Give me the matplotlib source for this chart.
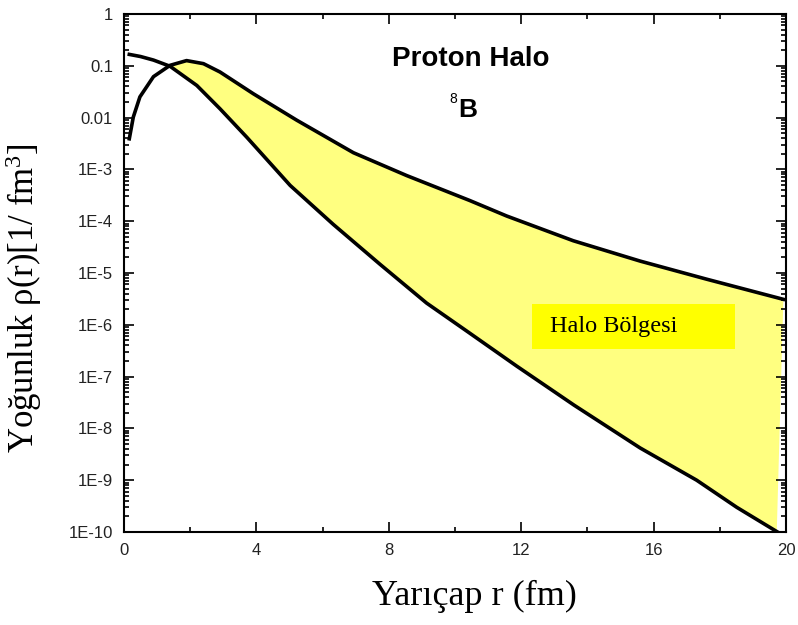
import matplotlib
matplotlib.use("Agg")
import matplotlib.pyplot as plt
from matplotlib.patches import Rectangle
from matplotlib.ticker import FixedLocator, FixedFormatter, LogLocator, NullFormatter

# lower curve (first curve, flat at small r)
r_a = [0.16, 0.5, 0.89, 1.39, 2.2, 2.9, 3.71, 5.02, 6.32, 7.73, 9.14, 10.35,
       11.86, 13.6, 15.59, 17.30, 18.51, 19.72]
rho_a = [0.166, 0.151, 0.129, 0.098, 0.0417, 0.0148, 4.17e-3, 4.9e-4, 8.7e-5,
         1.48e-5, 2.63e-6, 7.6e-7, 1.6e-7, 2.8e-8, 4.2e-9, 1.0e-9, 3.0e-10,
         1.02e-10]

# upper curve (halo, peaks near r=2)
r_b = [0.16, 0.28, 0.48, 0.89, 1.39, 1.89, 2.40, 2.90, 3.91, 5.22, 6.93, 8.54,
       10.45, 11.56, 13.57, 15.59, 17.60, 19.92]
rho_b = [3.9e-3, 0.0102, 0.0251, 0.0617, 0.102, 0.126, 0.110, 0.0759, 0.0288,
         8.9e-3, 2.1e-3, 7.6e-4, 2.5e-4, 1.26e-4, 4.2e-5, 1.7e-5, 7.6e-6,
         3.1e-6]

ytick_vals = [1, 0.1, 0.01, 1e-3, 1e-4, 1e-5, 1e-6, 1e-7, 1e-8, 1e-9, 1e-10]
ytick_labels = ["1", "0.1", "0.01", "1E-3", "1E-4", "1E-5", "1E-6", "1E-7",
                "1E-8", "1E-9", "1E-10"]
xtick_vals = [0, 4, 8, 12, 16, 20]

plt.rcParams["mathtext.fontset"] = "custom"
plt.rcParams["mathtext.rm"] = "Liberation Serif"
plt.rcParams["mathtext.it"] = "Liberation Serif"

fig = plt.figure(figsize=(7.98, 6.25), dpi=100)
ax = fig.add_axes([0.1554, 0.1488, 0.8296, 0.8288])

# yellow halo region between the two curves (from the crossing point on)
up = [(r, v) for r, v in zip(r_b, rho_b) if r >= 1.39]
lo = [(r, v) for r, v in zip(r_a, rho_a) if r >= 1.39]
poly_r = [p[0] for p in up] + [p[0] for p in reversed(lo)]
poly_v = [p[1] for p in up] + [p[1] for p in reversed(lo)]
ax.fill(poly_r, poly_v, color="#ffff80", lw=0, zorder=1)

ax.plot(r_a, rho_a, color="red", lw=1, zorder=2)
ax.plot(r_a, rho_a, color="black", lw=2.6, zorder=3)
ax.plot(r_b, rho_b, color="black", lw=2.6, zorder=3)

ax.set_yscale("log")
ax.set_xlim(0, 20)
ax.set_ylim(1e-10, 1)

ax.yaxis.set_major_locator(FixedLocator(ytick_vals))
ax.yaxis.set_major_formatter(FixedFormatter(ytick_labels))
ax.yaxis.set_minor_locator(LogLocator(base=10, subs=range(2, 10), numticks=20))
ax.yaxis.set_minor_formatter(NullFormatter())
ax.set_xticks(xtick_vals)
ax.set_xticks([2, 6, 10, 14, 18], minor=True)

for s in ax.spines.values():
    s.set_linewidth(1.5)
ax.tick_params(which="both", direction="in", top=True, right=True, width=1.2,
               colors="black")
ax.tick_params(which="major", length=7, pad=8)
ax.tick_params(which="minor", length=3.5)
for lab in ax.get_xticklabels() + ax.get_yticklabels():
    lab.set_fontfamily("Liberation Sans")
    lab.set_fontsize(12)
    lab.set_color("#222222")

ax.set_xlabel("Yarıçap r (fm)", fontfamily="Liberation Serif", fontsize=26,
              labelpad=16)
ax.xaxis.label.set_x(0.53)
ax.set_ylabel("Yoğunluk ρ(r)[1/ fm$^3$]", fontfamily="Liberation Serif",
              fontsize=25)
ax.yaxis.set_label_coords(-0.121, 0.452)

ax.text(0.524, 0.913, "Proton Halo", transform=ax.transAxes, ha="center",
        va="center", fontfamily="Liberation Sans", fontweight="bold", fontsize=20)
ax.text(0.505, 0.815, "B", transform=ax.transAxes, ha="left", va="center",
        fontfamily="Liberation Sans", fontweight="bold", fontsize=19)
ax.text(0.503, 0.836, "8", transform=ax.transAxes, ha="right", va="center",
        fontfamily="Liberation Sans", fontsize=10)

ax.add_patch(Rectangle((0.616, 0.353), 0.307, 0.087, transform=ax.transAxes,
                       facecolor="#ffff00", edgecolor="none", zorder=4))
ax.text(0.644, 0.396, "Halo Bölgesi", transform=ax.transAxes, ha="left",
        va="center", fontfamily="Liberation Serif", fontsize=17.5, zorder=5)

fig.savefig("out.png", dpi=100)
